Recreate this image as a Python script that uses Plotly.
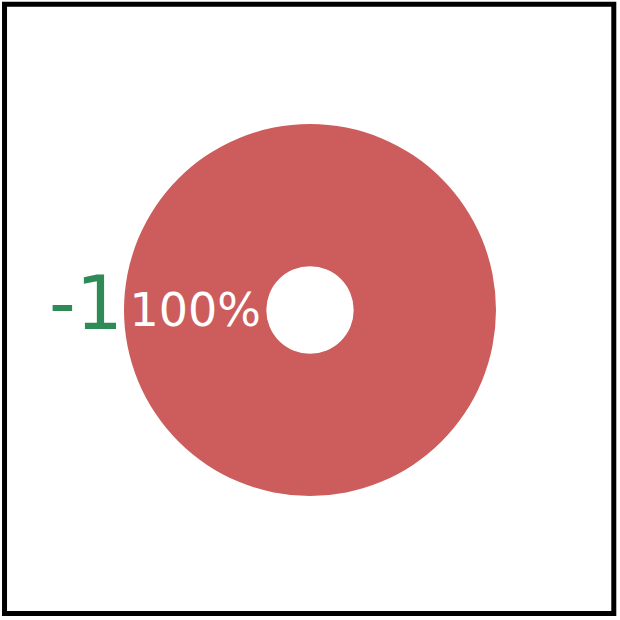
import plotly.graph_objects as go

labels = ["A"]
values = [1]
annotation_text = "-1"

fig = go.Figure(go.Pie(
    labels=labels,
    values=values,
    hole=0.235,
    marker=dict(colors=["indianred"]),
    textinfo="percent",
    textposition="inside",
    insidetextfont=dict(color="white", size=46, family="DejaVu Sans"),
    rotation=90,
    sort=False,
    showlegend=False,
    domain=dict(x=[0.2, 0.8], y=[0.2, 0.8]),
))

fig.add_annotation(
    text=annotation_text, x=0.138, y=0.511, xref="paper", yref="paper",
    xanchor="center", yanchor="middle", showarrow=False,
    font=dict(color="seagreen", size=74, family="DejaVu Sans"),
)

fig.add_shape(type="rect", xref="paper", yref="paper",
              x0=0.0073, x1=0.990, y0=0.0105, y1=0.9932,
              line=dict(color="black", width=5))

fig.update_layout(
    width=620, height=620,
    margin=dict(l=0, r=0, t=0, b=0),
    paper_bgcolor="white", plot_bgcolor="white",
)

fig.write_html("out.html", config={"displayModeBar": False},
               post_script="document.body.style.margin='0px';")
